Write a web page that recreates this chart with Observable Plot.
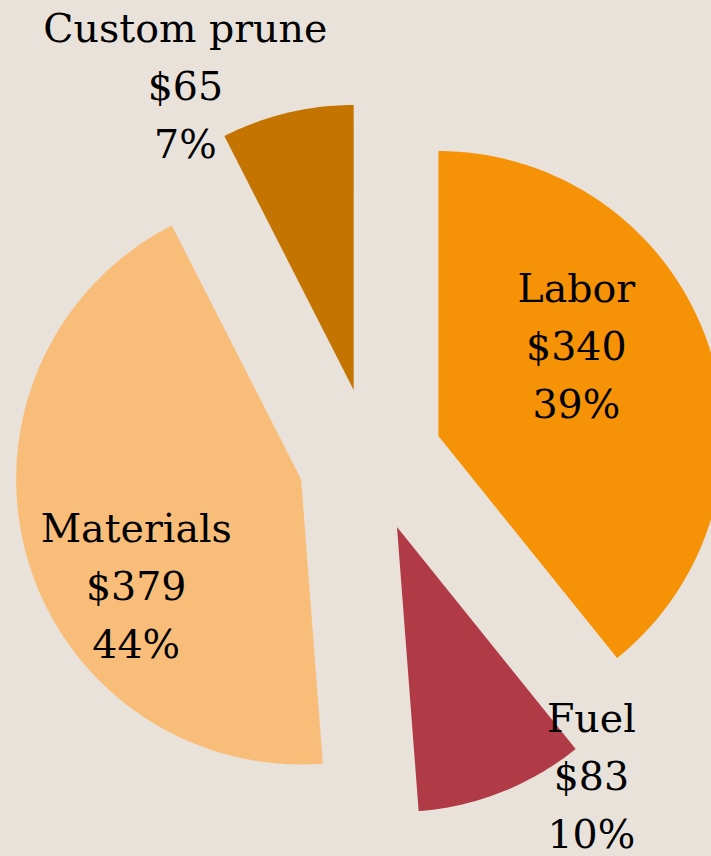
<!DOCTYPE html>
<html>
<head>
<meta charset="utf-8">
<script src="https://cdn.jsdelivr.net/npm/d3@7"></script>
<script src="https://cdn.jsdelivr.net/npm/@observablehq/plot@0.6"></script>
<style>
  html, body { margin: 0; padding: 0; background: #e8e2da; overflow: hidden; }
</style>
</head>
<body>
<div id="chart"></div>
<script>
// ---- data ----
const categories = ["Labor", "Fuel", "Materials", "Custom prune"];
const costs = [340, 83, 379, 65];

// ---- style / layout ----
const colors = ["#f59205", "#b03a46", "#f9bd7a", "#c47400"];
const labelRadius = [234, 389, 267, 415];   // px from pie centre
const labelShiftDeg = [-9, -13, -13, -13];  // angular shift of label from slice mid-angle
const labelDy = [-7, -9, -7, -7];           // vertical nudge of label block

const W = 711, H = 856;
const cx = 370, cy = 459.5, R = 285, explode = 72;

const total = d3.sum(costs);
const arcs = d3.pie().sort(null).value(d => d)(costs);

const slicePts = [];
const labels = [];
arcs.forEach((a, i) => {
  const cat = categories[i];
  const mid = (a.startAngle + a.endAngle) / 2;
  const ox = explode * Math.sin(mid), oy = -explode * Math.cos(mid);
  const ax = cx + ox, ay = cy + oy;
  slicePts.push({category: cat, x: ax, y: ay});
  const n = Math.max(8, Math.ceil((a.endAngle - a.startAngle) * 180 / Math.PI));
  for (let k = 0; k <= n; k++) {
    const t = a.startAngle + (a.endAngle - a.startAngle) * k / n;
    slicePts.push({category: cat, x: ax + R * Math.sin(t), y: ay - R * Math.cos(t)});
  }
  slicePts.push({category: cat, x: ax, y: ay});
  const la = mid + labelShiftDeg[i] * Math.PI / 180;
  labels.push({
    category: cat,
    x: cx + labelRadius[i] * Math.sin(la),
    y: cy - labelRadius[i] * Math.cos(la) + labelDy[i],
    text: `${cat}\n$${costs[i]}\n${Math.round(costs[i] / total * 100)}%`
  });
});

const chart = Plot.plot({
  width: W,
  height: H,
  margin: 0,
  x: {domain: [0, W], range: [0, W], axis: null},
  y: {domain: [0, H], range: [0, H], axis: null},
  color: {domain: categories, range: colors},
  style: {background: "#e8e2da", overflow: "hidden"},
  marks: [
    Plot.line(slicePts, {x: "x", y: "y", z: "category", fill: "category", stroke: "none"}),
    Plot.text(labels, {
      x: "x", y: "y", text: "text",
      fontSize: 39.5, lineHeight: 1.47,
      fontFamily: "DejaVu Serif",
      fill: "#000", textAnchor: "middle"
    })
  ]
});
document.getElementById("chart").appendChild(chart);
</script>
</body>
</html>
